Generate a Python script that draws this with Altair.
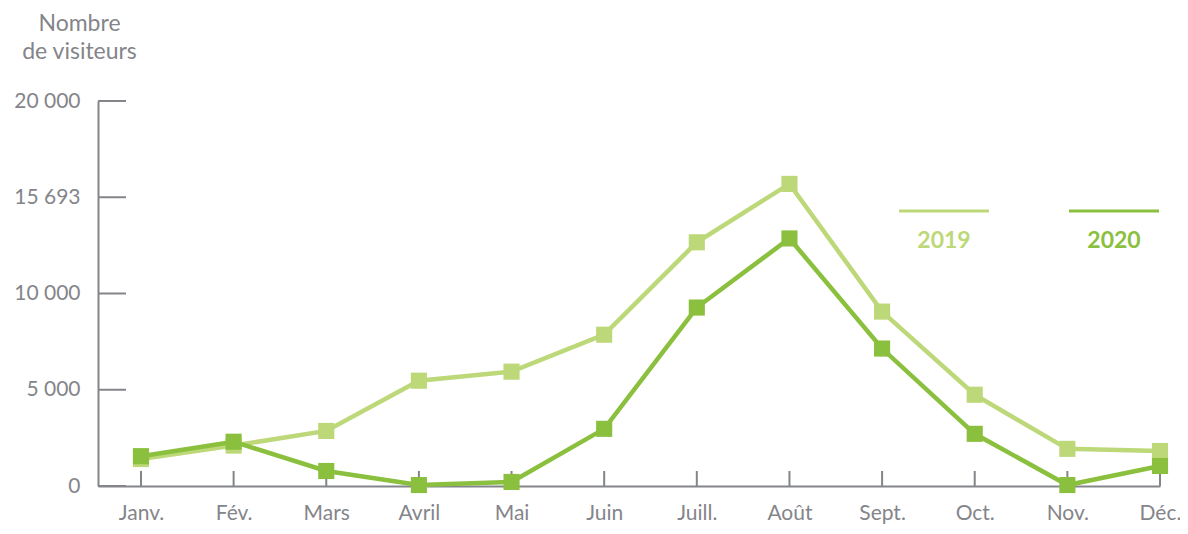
import altair as alt
import pandas as pd

months = ["Janv.", "Fév.", "Mars", "Avril", "Mai", "Juin", "Juill.", "Août", "Sept.", "Oct.", "Nov.", "Déc."]
v2019 = [1400, 2100, 2860, 5470, 5940, 7860, 12660, 15693, 9060, 4740, 1930, 1820]
v2020 = [1550, 2300, 780, 50, 210, 2970, 9270, 12860, 7140, 2710, 50, 1040]
y_ticks = [0, 5000, 10000, 15000, 20000]
y_tick_labels = ["0", "5 000", "10 000", "15 693", "20 000"]
years = ["2019", "2020"]
colors = ["#bdd878", "#8bc03f"]

W, H = 1062, 385
GRAY = "#84858a"
FONT = "Lato"

rows = []
for y, vals in zip(years, [v2019, v2020]):
    for i, v in enumerate(vals):
        rows.append({"idx": i, "month": months[i], "value": v, "year": y})
df = pd.DataFrame(rows)

xscale = alt.Scale(domain=[-0.464, 11], nice=False, zero=False)
yscale = alt.Scale(domain=[0, 20000], nice=False)

month_expr = "[" + ",".join("'" + m + "'" for m in months) + "][datum.value]"
ylab_expr = "{" + ",".join("'%d':'%s'" % (t, l) for t, l in zip(y_ticks, y_tick_labels)) + "}[datum.value+'']"

xaxis = alt.Axis(
    values=list(range(12)), labelExpr=month_expr, ticks=False, tickSize=0, grid=False,
    domainColor=GRAY, domainWidth=2, labelColor=GRAY, labelFont=FONT, labelFontSize=21,
    labelPadding=16, title=None, labelFlush=False)
yaxis = alt.Axis(
    values=y_ticks, labelExpr=ylab_expr, ticks=False, tickSize=0, grid=False,
    domainColor=GRAY, domainWidth=2, labelColor=GRAY, labelFont=FONT, labelFontSize=21,
    labelPadding=18, title=["Nombre", "de visiteurs"], titleAngle=0, titleAlign="center",
    titleBaseline="top", titleX=-19, titleY=-89, titleColor=GRAY, titleFont=FONT,
    titleFontSize=23, titleFontWeight="normal", titleLineHeight=28, labelFlush=False)


def X():
    return alt.X("idx:Q", scale=xscale, axis=xaxis)


def Y():
    return alt.Y("value:Q", scale=yscale, axis=yaxis)


layers = []

# axis ticks (inward)
ytick_df = pd.DataFrame({"value": y_ticks})
layers.append(alt.Chart(ytick_df).mark_rule(color=GRAY, strokeWidth=2).encode(
    y=Y(), x=alt.value(0), x2=alt.value(28)))
xtick_df = pd.DataFrame({"idx": list(range(12))})
layers.append(alt.Chart(xtick_df).mark_rule(color=GRAY, strokeWidth=2).encode(
    x=X(), y=alt.value(H - 15), y2=alt.value(H)))

for y, c in zip(years, colors):
    d = df[df.year == y]
    layers.append(alt.Chart(d).mark_line(color=c, strokeWidth=4.5).encode(x=X(), y=Y()))
    layers.append(alt.Chart(d).mark_point(shape="square", filled=True, opacity=1, size=260, color=c).encode(
        x=X(), y=Y()))

# legend
leg_x = [801, 971]
for y, c, lx in zip(years, colors, leg_x):
    ld = pd.DataFrame({"year": [y]})
    layers.append(alt.Chart(ld).mark_rule(color=c, strokeWidth=3).encode(
        x=alt.value(lx), x2=alt.value(lx + 90), y=alt.value(110)))
    layers.append(alt.Chart(ld).mark_text(color=c, font=FONT, fontSize=23, fontWeight="bold",
                                          baseline="middle", align="center").encode(
        x=alt.value(lx + 45), y=alt.value(140), text="year:N"))

chart = alt.layer(*layers).properties(
    width=W, height=H,
    autosize=alt.AutoSizeParams(type="none"),
    padding={"left": 90, "top": 93, "right": 20, "bottom": 40},
).configure_view(stroke=None)

chart.save("out.html", embed_options={"renderer": "svg", "actions": False})
